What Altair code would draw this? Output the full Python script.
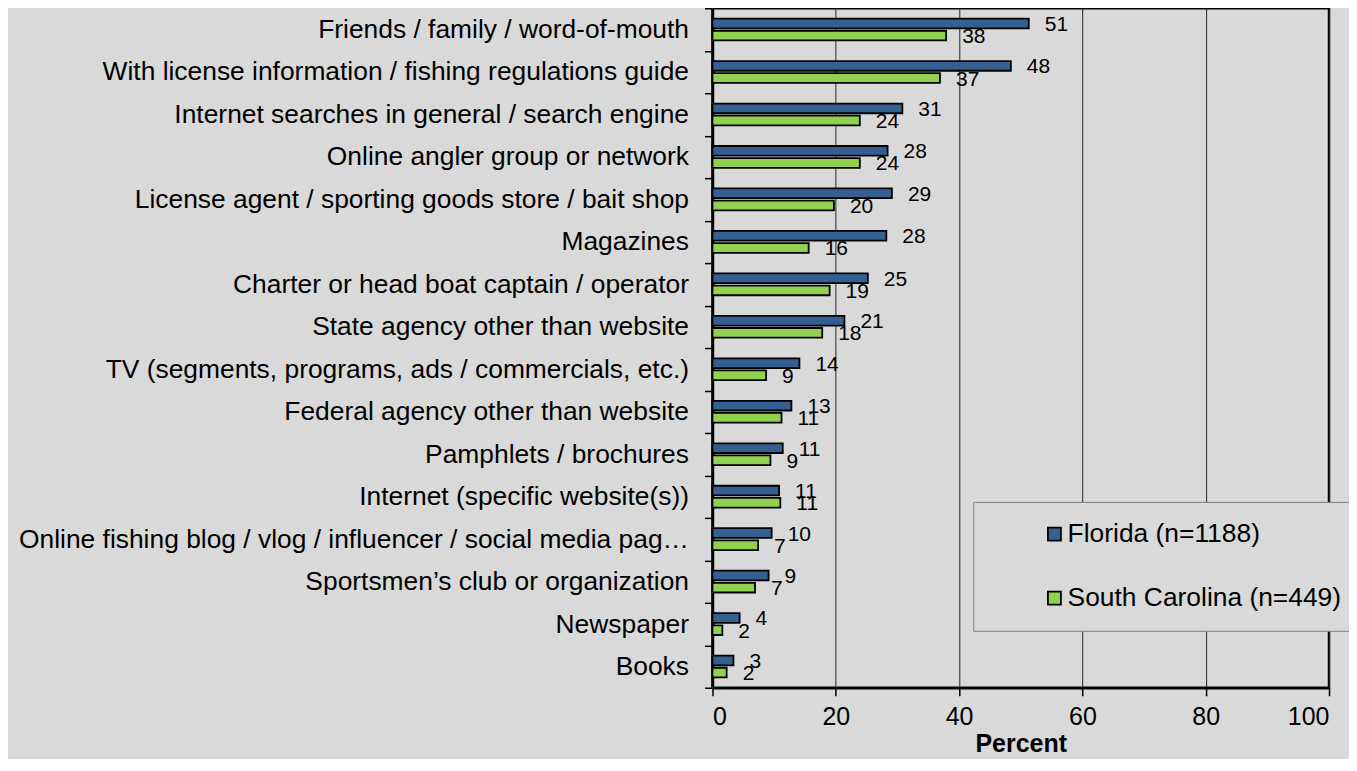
import altair as alt
import pandas as pd

categories = [
    "Friends / family / word-of-mouth",
    "With license information / fishing regulations guide",
    "Internet searches in general / search engine",
    "Online angler group or network",
    "License agent / sporting goods store / bait shop",
    "Magazines",
    "Charter or head boat captain / operator",
    "State agency other than website",
    "TV (segments, programs, ads / commercials, etc.)",
    "Federal agency other than website",
    "Pamphlets / brochures",
    "Internet (specific website(s))",
    "Online fishing blog / vlog / influencer / social media page / group",
    "Sportsmen\u2019s club or organization",
    "Newspaper",
    "Books",
]
florida = [51.3, 48.4, 30.8, 28.4, 29.1, 28.2, 25.2, 21.4, 14.1, 12.8, 11.4, 10.8, 9.6, 9.1, 4.4, 3.4]
south_carolina = [37.9, 36.9, 23.9, 23.9, 19.7, 15.6, 19.0, 17.8, 8.7, 11.2, 9.4, 11.0, 7.4, 6.9, 1.6, 2.3]
florida_labels = ["51", "48", "31", "28", "29", "28", "25", "21", "14", "13", "11", "11", "10", "9", "4", "3"]
sc_labels = ["38", "37", "24", "24", "20", "16", "19", "18", "9", "11", "9", "11", "7", "7", "2", "2"]
series = ["Florida (n=1188)", "South Carolina (n=449)"]
colors = ["#355F91", "#92D050"]
x_ticks = [0, 20, 40, 60, 80, 100]

rows = []
for i, c in enumerate(categories):
    rows.append({"cat": c, "series": series[0], "value": florida[i], "label": florida_labels[i]})
    rows.append({"cat": c, "series": series[1], "value": south_carolina[i], "label": sc_labels[i]})
df = pd.DataFrame(rows)

FONT = "Liberation Sans"

y_enc = alt.Y(
    "cat:N",
    sort=categories,
    title=None,
    scale=alt.Scale(paddingInner=0, paddingOuter=0),
    axis=alt.Axis(
        labelFontSize=26.4,
        labelColor="#000000",
        labelFont=FONT,
        labelLimit=680,
        labelPadding=16,
        tickBand="extent",
        tickSize=8,
        tickColor="#000000",
        tickWidth=1.5,
        domainColor="#000000",
        domainWidth=2.5,
        grid=False,
    ),
)
yoff_enc = alt.YOffset(
    "series:N",
    sort=series,
    scale=alt.Scale(paddingInner=0.2, paddingOuter=0.85),
)
x_enc = alt.X(
    "value:Q",
    title="Percent",
    scale=alt.Scale(domain=[0, 100], nice=False),
    axis=alt.Axis(
        values=x_ticks,
        labelFontSize=25,
        labelColor="#000000",
        labelFont=FONT,
        labelPadding=9,
        tickSize=8,
        tickColor="#000000",
        tickWidth=1.5,
        domainColor="#000000",
        domainWidth=2.5,
        grid=True,
        gridColor="#262626",
        gridWidth=1,
        titleFontSize=25,
        titleFont=FONT,
        titleFontWeight="bold",
        titleColor="#000000",
        titlePadding=2,
    ),
)

bars = alt.Chart(df).mark_bar(stroke="#000000", strokeWidth=1.8).encode(
    x=x_enc,
    y=y_enc,
    yOffset=yoff_enc,
    color=alt.Color(
        "series:N",
        sort=series,
        scale=alt.Scale(domain=series, range=colors),
        legend=alt.Legend(
            title=None,
            orient="none",
            legendX=261,
            legendY=494,
            direction="vertical",
            fillColor="#D9D9D9",
            strokeColor="#7F7F7F",
            padding=19,
            rowPadding=37,
            symbolType="square",
            symbolSize=169,
            symbolStrokeColor="#000000",
            symbolStrokeWidth=1.8,
            symbolOffset=49,
            labelOffset=0,
            labelFontSize=26.4,
            labelFont=FONT,
            labelColor="#000000",
            labelLimit=500,
        ),
    ),
)

texts = alt.Chart(df).mark_text(
    align="left", baseline="middle", dx=16, dy=1.5, fontSize=21, font=FONT, color="#000000"
).encode(
    x=alt.X("value:Q"),
    y=alt.Y("cat:N", sort=categories),
    yOffset=alt.YOffset("series:N", sort=series),
    text="label:N",
)

chart = (
    alt.layer(bars, texts)
    .properties(
        width=617,
        height=680,
        background="#D9D9D9",
        padding={"left": 705, "top": 0, "right": 20, "bottom": 71},
        autosize=alt.AutoSizeParams(type="none"),
    )
    .configure_view(stroke="#000000", strokeWidth=2.5, fill="#D9D9D9")
)

chart.save("out.html", embed_options={"renderer": "svg", "actions": False})
